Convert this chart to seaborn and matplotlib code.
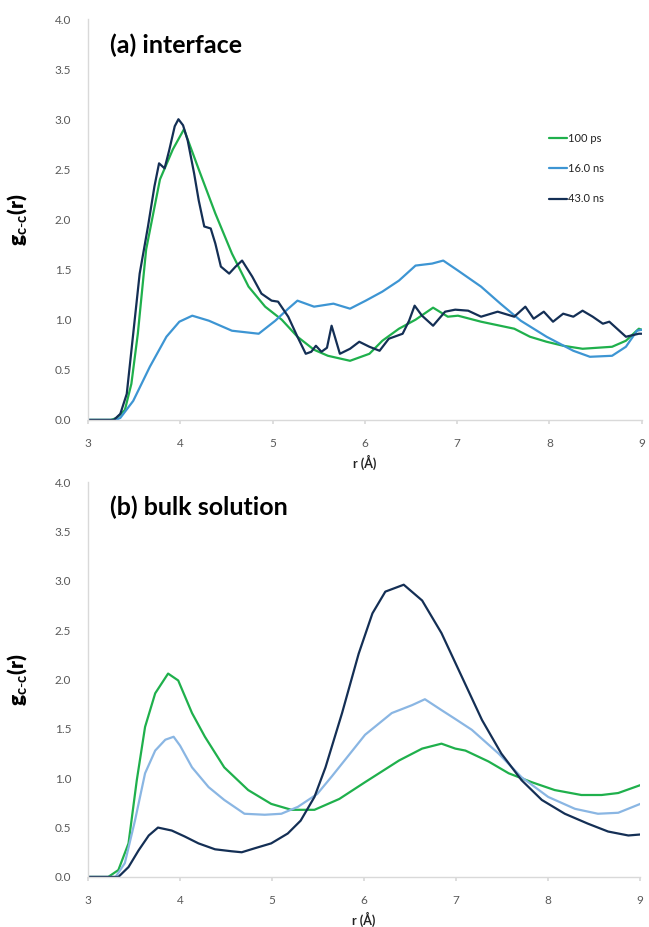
import numpy as np
import pandas as pd
import matplotlib
matplotlib.use("Agg")
import matplotlib.pyplot as plt
import seaborn as sns

# ---------------- data ----------------
series_labels = ["100 ps", "16.0 ns", "43.0 ns"]
x_ticks = [3, 4, 5, 6, 7, 8, 9]
y_ticks = [0.0, 0.5, 1.0, 1.5, 2.0, 2.5, 3.0, 3.5, 4.0]

# (a) interface
r_a_100ps = [3.0, 3.25, 3.31, 3.40, 3.47, 3.54, 3.63, 3.78, 3.92, 4.04, 4.20, 4.38, 4.56, 4.74, 4.92,
             5.10, 5.27, 5.45, 5.60, 5.84, 6.05, 6.19, 6.37, 6.55, 6.74, 6.90, 7.01, 7.26, 7.62,
             7.79, 7.97, 8.15, 8.36, 8.68, 8.83, 8.97, 9.0]
g_a_100ps = [0.0, 0.0, 0.02, 0.10, 0.36, 0.86, 1.70, 2.40, 2.70, 2.90, 2.50, 2.06, 1.66, 1.33, 1.13,
             1.00, 0.83, 0.70, 0.64, 0.59, 0.66, 0.79, 0.91, 1.00, 1.12, 1.03, 1.04, 0.98, 0.91,
             0.83, 0.78, 0.74, 0.71, 0.73, 0.79, 0.91, 0.90]

r_a_16ns = [3.0, 3.30, 3.35, 3.49, 3.67, 3.85, 3.99, 4.13, 4.31, 4.56, 4.85, 5.03, 5.17, 5.27, 5.45,
            5.66, 5.84, 6.01, 6.19, 6.37, 6.55, 6.73, 6.85, 7.01, 7.26, 7.47, 7.69, 7.97, 8.26,
            8.44, 8.68, 8.83, 8.95, 9.0]
g_a_16ns = [0.0, 0.0, 0.02, 0.19, 0.53, 0.83, 0.98, 1.04, 0.99, 0.89, 0.86, 0.99, 1.11, 1.19, 1.13,
            1.16, 1.11, 1.19, 1.28, 1.39, 1.54, 1.56, 1.59, 1.49, 1.33, 1.16, 0.99, 0.83, 0.69,
            0.63, 0.64, 0.73, 0.89, 0.90]

r_a_43ns = [3.0, 3.28, 3.35, 3.42, 3.49, 3.56, 3.65, 3.72, 3.77, 3.83, 3.88, 3.94, 3.98, 4.03, 4.08,
            4.15, 4.20, 4.26, 4.33, 4.38, 4.44, 4.53, 4.60, 4.67, 4.78, 4.88, 4.99, 5.06, 5.17,
            5.27, 5.36, 5.42, 5.47, 5.53, 5.59, 5.64, 5.73, 5.84, 5.94, 6.05, 6.16, 6.26, 6.41,
            6.48, 6.54, 6.62, 6.74, 6.87, 6.98, 7.12, 7.26, 7.44, 7.62, 7.74, 7.83, 7.94, 8.04,
            8.15, 8.26, 8.36, 8.47, 8.58, 8.65, 8.83, 8.97, 9.0]
g_a_43ns = [0.0, 0.0, 0.06, 0.26, 0.86, 1.46, 1.93, 2.33, 2.56, 2.51, 2.69, 2.93, 3.00, 2.94, 2.79,
            2.46, 2.19, 1.93, 1.91, 1.76, 1.53, 1.46, 1.53, 1.59, 1.43, 1.26, 1.19, 1.18, 1.03,
            0.83, 0.66, 0.68, 0.74, 0.68, 0.72, 0.94, 0.66, 0.71, 0.78, 0.73, 0.69, 0.81, 0.86,
            0.99, 1.14, 1.04, 0.94, 1.08, 1.10, 1.09, 1.03, 1.08, 1.03, 1.13, 1.01, 1.08, 0.98,
            1.06, 1.03, 1.09, 1.03, 0.96, 0.98, 0.83, 0.86, 0.86]

# (b) bulk solution
r_b_100ps = [3.0, 3.22, 3.33, 3.44, 3.53, 3.62, 3.73, 3.87, 3.98, 4.13, 4.27, 4.48, 4.74, 4.99,
             5.21, 5.46, 5.73, 6.01, 6.38, 6.63, 6.84, 6.99, 7.10, 7.35, 7.57, 7.82, 8.07, 8.36,
             8.58, 8.76, 9.0]
g_b_100ps = [0.0, 0.0, 0.07, 0.34, 0.98, 1.52, 1.86, 2.06, 1.99, 1.66, 1.42, 1.11, 0.88, 0.74,
             0.68, 0.68, 0.79, 0.96, 1.18, 1.30, 1.35, 1.30, 1.28, 1.17, 1.05, 0.96, 0.88, 0.83,
             0.83, 0.85, 0.93]

r_b_16ns = [3.0, 3.30, 3.40, 3.51, 3.62, 3.73, 3.84, 3.93, 4.00, 4.13, 4.31, 4.48, 4.70, 4.92,
            5.10, 5.28, 5.49, 5.65, 6.01, 6.30, 6.52, 6.66, 6.84, 6.99, 7.17, 7.46, 7.71, 8.00,
            8.29, 8.54, 8.76, 9.0]
g_b_16ns = [0.0, 0.0, 0.14, 0.57, 1.05, 1.28, 1.39, 1.42, 1.33, 1.11, 0.91, 0.78, 0.64, 0.63,
            0.64, 0.71, 0.84, 1.02, 1.44, 1.66, 1.74, 1.80, 1.69, 1.60, 1.49, 1.25, 1.01, 0.81,
            0.69, 0.64, 0.65, 0.74]

r_b_43ns = [3.0, 3.33, 3.44, 3.55, 3.66, 3.76, 3.91, 4.05, 4.20, 4.38, 4.56, 4.67, 4.81, 4.99,
            5.17, 5.31, 5.46, 5.58, 5.76, 5.94, 6.09, 6.23, 6.43, 6.63, 6.84, 7.06, 7.28, 7.49,
            7.71, 7.93, 8.18, 8.43, 8.65, 8.87, 9.0]
g_b_43ns = [0.0, 0.0, 0.10, 0.27, 0.42, 0.50, 0.47, 0.41, 0.34, 0.28, 0.26, 0.25, 0.29, 0.34,
            0.44, 0.57, 0.81, 1.11, 1.66, 2.26, 2.67, 2.89, 2.96, 2.80, 2.47, 2.03, 1.59, 1.25,
            0.98, 0.78, 0.64, 0.54, 0.46, 0.42, 0.43]

# ---------------- styling ----------------
sns.set_theme(style="white")
plt.rcParams["font.family"] = ["Lato", "DejaVu Sans"]
plt.rcParams["mathtext.fontset"] = "custom"
plt.rcParams["mathtext.bf"] = "Lato:bold"
plt.rcParams["mathtext.rm"] = "Lato"

c_green = "#1fb04c"
c_blue_a = "#3d95d3"
c_blue_b = "#8ab6e3"
c_navy = "#142f55"
axis_col = "#d9d9d9"
tick_col = "#595959"

fig = plt.figure(figsize=(6.49, 9.27), dpi=100)
ax_a = fig.add_axes([0.1356, 0.547, 0.853, 0.4325])
ax_b = fig.add_axes([0.1356, 0.054, 0.851, 0.426])

panels = [
    (ax_a, "(a) interface",
     [(r_a_100ps, g_a_100ps, c_green), (r_a_16ns, g_a_16ns, c_blue_a), (r_a_43ns, g_a_43ns, c_navy)],
     True),
    (ax_b, "(b) bulk solution",
     [(r_b_100ps, g_b_100ps, c_green), (r_b_16ns, g_b_16ns, c_blue_b), (r_b_43ns, g_b_43ns, c_navy)],
     False),
]

for ax, title, series, show_legend in panels:
    for (rr, gg, col), lab in zip(series, series_labels):
        df = pd.DataFrame({"r": rr, "g": gg})
        sns.lineplot(data=df, x="r", y="g", ax=ax, color=col, linewidth=1.6,
                     label=lab if show_legend else None, legend=show_legend)
    ax.set_xlim(3, 9)
    ax.set_ylim(0, 4)
    ax.set_xticks(x_ticks)
    ax.set_xticklabels([str(t) for t in x_ticks])
    ax.set_yticks(y_ticks)
    ax.set_yticklabels([f"{t:.1f}" for t in y_ticks])
    for s in ["top", "right"]:
        ax.spines[s].set_visible(False)
    for s in ["left", "bottom"]:
        ax.spines[s].set_color(axis_col)
        ax.spines[s].set_linewidth(1.0)
    ax.tick_params(axis="both", colors=tick_col, labelsize=8.5, length=0)
    ax.tick_params(axis="x", pad=10, bottom=True, length=3, color=axis_col)
    ax.tick_params(axis="y", pad=12)
    ax.set_xlabel("r (Å)", fontsize=9, fontweight="bold", color="#222222", labelpad=4)
    ax.set_ylabel(r"g$_{\mathbf{c\text{-}c}}$(r)", fontsize=15, fontweight="heavy",
                  color="black", labelpad=18)
    ax.text(0.04, 0.935, title, transform=ax.transAxes, fontsize=18, fontweight="bold",
            color="black", ha="left", va="center")

leg = ax_a.legend(loc="upper left", bbox_to_anchor=(0.825, 0.728), frameon=False,
                  fontsize=8, handlelength=1.6, handletextpad=0.1, labelspacing=1.75,
                  borderaxespad=0)
for t in leg.get_texts():
    t.set_color("#222222")

fig.savefig("out.png", dpi=100)
